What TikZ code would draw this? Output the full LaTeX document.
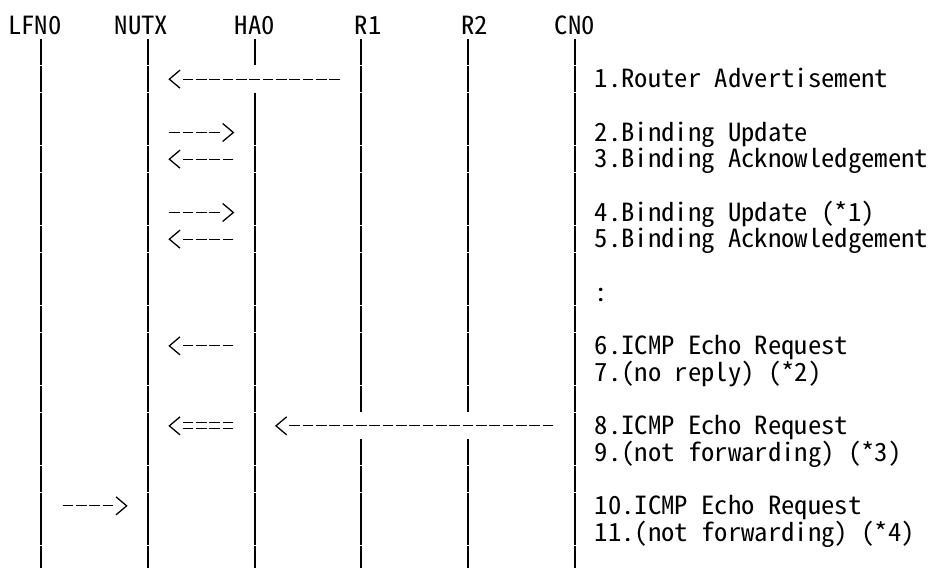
\documentclass[tikz,border=0pt]{standalone}
\usepackage{fontspec}
\newfontfamily\seqfont{Noto Sans CJK JP}[RawFeature=+hwid, FakeStretch=1.0667]
\usepackage{tikz}
\usetikzlibrary{calc}

\tikzset{
  lifeline/.style={line width=1.8pt, dash pattern=on 26.2pt off 0.467pt},
  msgline/.style={line width=1.3pt, dash pattern=on 10.667pt off 2.667pt},
  tipline/.style={line width=1.3pt},
  msgtext/.style={anchor=base west, inner sep=0pt, font=\seqfont\fontsize{25}{26.667}\selectfont},
  ltip/.pic={\draw[tipline] (0.8,-0.3375) -- (0,0) -- (0.8,0.3375);},
  rtip/.pic={\draw[tipline] (-0.8,-0.3375) -- (0,0) -- (-0.8,0.3375);}
}

\begin{document}
\begin{tikzpicture}[x=1pt, y=-1pt]
  \useasboundingbox (0,0) rectangle (928,568);
  \begin{scope}[xshift=8pt, yshift=-12.5pt, x=13.3333pt, y=-26.6667pt]
    % Node names
    \node[msgtext] (lfn)  at (0,0.83)  {LFN0};
    \node[msgtext] (nutx) at (8,0.83)  {NUTX};
    \node[msgtext] (ha)   at (17,0.83) {HA0};
    \node[msgtext] (ra)   at (26,0.83) {R1};
    \node[msgtext] (rb)   at (34,0.83) {R2};
    \node[msgtext] (cn)   at (41,0.83) {CN0};

    % Lifeline ends and gaps
    \coordinate (lfn-t)  at (2.5,1);  \coordinate (lfn-b)  at (2.5,20.83);
    \coordinate (nutx-t) at (10.5,1); \coordinate (nutx-b) at (10.5,20.83);
    \coordinate (ha-t)   at (18.5,1); \coordinate (ha-b)   at (18.5,20.83);
    \coordinate (ra-t)   at (26.5,1); \coordinate (ra-b)   at (26.5,20.83);
    \coordinate (rb-t)   at (34.5,1); \coordinate (rb-b)   at (34.5,20.83);
    \coordinate (cn-t)   at (42.5,1); \coordinate (cn-b)   at (42.5,20.83);
    \coordinate (ha-g1) at (18.5,2);  \coordinate (ha-g2) at (18.5,3);
    \coordinate (ra-g1) at (26.5,15); \coordinate (ra-g2) at (26.5,16);
    \coordinate (rb-g1) at (34.5,15); \coordinate (rb-g2) at (34.5,16);

    % Lifelines
    \draw[lifeline] (lfn-t) -- (lfn-b);
    \draw[lifeline] (nutx-t) -- (nutx-b);
    \draw[lifeline] (ha-t) -- (ha-g1);
    \draw[lifeline] (ha-g2) -- (ha-b);
    \draw[lifeline] (ra-t) -- (ra-g1);
    \draw[lifeline] (ra-g2) -- (ra-b);
    \draw[lifeline] (rb-t) -- (rb-g1);
    \draw[lifeline] (rb-g2) -- (rb-b);
    \draw[lifeline] (cn-t) -- (cn-b);

    % 1. Router Advertisement
    \coordinate (m1-s) at (24.9,2.5); \coordinate (m1-e) at (12.1,2.5);
    \draw[msgline] (m1-s) -- ($(m1-e)+(1,0)$);
    \pic at (m1-e) {ltip};
    \node[msgtext] (t1) at (44,2.83) {1.Router Advertisement};

    % 2./3. Binding Update and Acknowledgement
    \coordinate (m2-s) at (12.1,4.5); \coordinate (m2-e) at (16.9,4.5);
    \draw[msgline] (m2-s) -- ($(m2-e)-(1,0)$);
    \pic at (m2-e) {rtip};
    \node[msgtext] (t2) at (44,4.83) {2.Binding Update};
    \coordinate (m3-s) at (16.9,5.5); \coordinate (m3-e) at (12.1,5.5);
    \draw[msgline] (m3-s) -- ($(m3-e)+(1,0)$);
    \pic at (m3-e) {ltip};
    \node[msgtext] (t3) at (44,5.83) {3.Binding Acknowledgement};

    % 4./5. Binding Update and Acknowledgement
    \coordinate (m4-s) at (12.1,7.5); \coordinate (m4-e) at (16.9,7.5);
    \draw[msgline] (m4-s) -- ($(m4-e)-(1,0)$);
    \pic at (m4-e) {rtip};
    \node[msgtext] (t4) at (44,7.83) {4.Binding Update (*1)};
    \coordinate (m5-s) at (16.9,8.5); \coordinate (m5-e) at (12.1,8.5);
    \draw[msgline] (m5-s) -- ($(m5-e)+(1,0)$);
    \pic at (m5-e) {ltip};
    \node[msgtext] (t5) at (44,8.83) {5.Binding Acknowledgement};

    \node[msgtext] (dots) at (44,10.83) {:};

    % 6./7. Echo Request to NUTX
    \coordinate (m6-s) at (16.9,12.5); \coordinate (m6-e) at (12.1,12.5);
    \draw[msgline] (m6-s) -- ($(m6-e)+(1,0)$);
    \pic at (m6-e) {ltip};
    \node[msgtext] (t6) at (44,12.83) {6.ICMP Echo Request};
    \node[msgtext] (t7) at (44,13.83) {7.(no reply) (*2)};

    % 8./9. Echo Request from CN0, tunnelled by HA0
    \coordinate (m8-s) at (40.9,15.5); \coordinate (m8-e) at (20.1,15.5);
    \draw[msgline] (m8-s) -- ($(m8-e)+(1,0)$);
    \pic at (m8-e) {ltip};
    \coordinate (m8t-s) at (16.9,15.5); \coordinate (m8t-e) at (12.1,15.5);
    \draw[msgline] ($(m8t-s)+(0,-0.1125)$) -- ($(m8t-e)+(1,-0.1125)$);
    \draw[msgline] ($(m8t-s)+(0,0.1125)$) -- ($(m8t-e)+(1,0.1125)$);
    \pic at (m8t-e) {ltip};
    \node[msgtext] (t8) at (44,15.83) {8.ICMP Echo Request};
    \node[msgtext] (t9) at (44,16.83) {9.(not forwarding) (*3)};

    % 10./11. Echo Request from LFN0
    \coordinate (m10-s) at (4.1,18.5); \coordinate (m10-e) at (8.9,18.5);
    \draw[msgline] (m10-s) -- ($(m10-e)-(1,0)$);
    \pic at (m10-e) {rtip};
    \node[msgtext] (t10) at (44,18.83) {10.ICMP Echo Request};
    \node[msgtext] (t11) at (44,19.83) {11.(not forwarding) (*4)};
  \end{scope}
\end{tikzpicture}
\end{document}
